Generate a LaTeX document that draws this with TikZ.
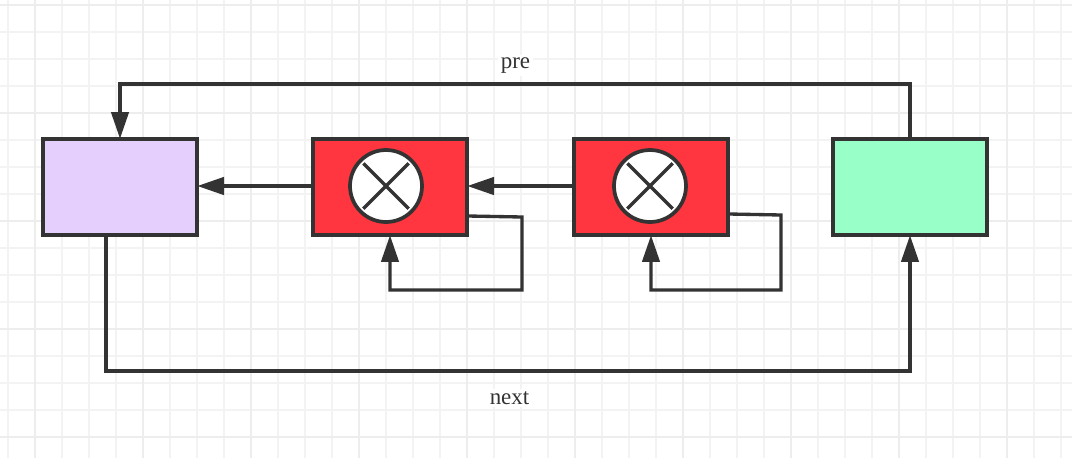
\documentclass[tikz,border=0pt]{standalone}
\usepackage{fontspec}
\setmainfont{Liberation Serif}
\usetikzlibrary{arrows.meta}
\definecolor{inkgrey}{HTML}{333333}
\definecolor{gridminor}{HTML}{F3F3F3}
\definecolor{gridmajor}{HTML}{EDEDED}
\definecolor{listpurple}{HTML}{E5CFFD}
\definecolor{listred}{HTML}{FF363F}
\definecolor{listgreen}{HTML}{99FFC8}
\tikzset{
    listnode/.style={draw=inkgrey, line width=2.8pt, minimum width=116pt, minimum height=72.4pt, outer sep=0pt, inner sep=0pt},
    delmark/.style={draw=inkgrey, fill=white, line width=2.8pt, circle, minimum size=54pt, outer sep=0pt, inner sep=0pt},
    crossline/.style={draw=inkgrey, line width=2.6pt, shorten >=3pt, shorten <=3pt},
    linkline/.style={draw=inkgrey, line width=2.5pt, -{Triangle[length=20pt,width=13pt]}},
    linklabel/.style={fill=white, text=inkgrey, font=\fontsize{17.2}{20}\selectfont, inner sep=2pt}
}
\begin{document}
\begin{tikzpicture}[x=0.75pt, y=-0.75pt]
    \useasboundingbox (0,0) rectangle (1072,458);
    \fill[white] (0,0) rectangle (1072,458);
    \foreach \gx in {8,35,...,1072} \draw[gridminor, line width=0.9pt] (\gx,0) -- (\gx,458);
    \foreach \gy in {5,32,...,458} \draw[gridminor, line width=0.9pt] (0,\gy) -- (1072,\gy);
    \foreach \gx in {35,143,...,1072} \draw[gridmajor, line width=1.3pt] (\gx,0) -- (\gx,458);
    \foreach \gy in {5,113,...,458} \draw[gridmajor, line width=1.3pt] (0,\gy) -- (1072,\gy);
    \node[listnode, fill=listpurple] (head) at (120,187) {};
    \node[listnode, fill=listred] (delone) at (390,187) {};
    \node[listnode, fill=listred] (deltwo) at (651,187) {};
    \node[listnode, fill=listgreen] (tail) at (910,187) {};
    \node[delmark] (markone) at (386,186) {};
    \node[delmark] (marktwo) at (650,186) {};
    \draw[crossline] (markone.45) -- (markone.225);
    \draw[crossline] (markone.135) -- (markone.315);
    \draw[crossline] (marktwo.45) -- (marktwo.225);
    \draw[crossline] (marktwo.135) -- (marktwo.315);
    \coordinate (pretop) at (515,84);
    \coordinate (nextstart) at (106,236);
    \coordinate (nextbot) at (509,371);
    \coordinate (loopaout) at (468,216);
    \coordinate (loopacorner) at (522,217);
    \coordinate (loopabot) at (522,290);
    \coordinate (loopbout) at (729,214);
    \coordinate (loopbcorner) at (781,215);
    \coordinate (loopbbot) at (781,290);
    \draw[linkline] ([yshift=0.75pt]delone.west) -- ([yshift=0.75pt]head.east);
    \draw[linkline] ([yshift=0.75pt]deltwo.west) -- ([yshift=0.75pt]delone.east);
    \draw[linkline] (tail.north) |- (pretop) -| (head.north);
    \draw[linkline] (nextstart) |- (nextbot) -| (tail.south);
    \draw[linkline] (loopaout) -- (loopacorner) -- (loopabot) -| (delone.south);
    \draw[linkline] (loopbout) -- (loopbcorner) -- (loopbbot) -| (deltwo.south);
    \node[linklabel] (prelabel) at (515.5,65.5) {pre};
    \node[linklabel] (nextlabel) at (509.5,398) {next};
\end{tikzpicture}
\end{document}
